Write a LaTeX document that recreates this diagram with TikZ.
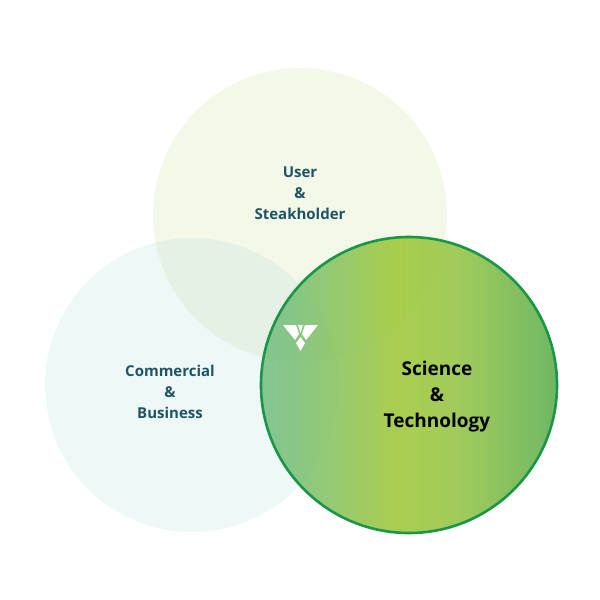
\documentclass[tikz,border=0pt]{standalone}
\usepackage{fontspec}
\setmainfont{Open Sans}
\definecolor{txt}{RGB}{30,85,100}
\definecolor{ring}{RGB}{25,150,70}
\pgfdeclarehorizontalshading{scitech}{100bp}{
 rgb(0bp)=(0.42,0.77,0.72);
 rgb(30bp)=(0.50,0.76,0.50);
 rgb(48bp)=(0.64,0.79,0.25);
 rgb(58bp)=(0.60,0.78,0.30);
 rgb(78bp)=(0.35,0.68,0.35);
 rgb(100bp)=(0.08,0.55,0.35)}
\tikzset{lbl/.style={font=\bfseries\fontsize{15}{21}\selectfont, text=txt, align=center},
 big/.style={font=\bfseries\fontsize{19}{26}\selectfont, text=black, align=center}}
\begin{document}
\begin{tikzpicture}[x=1pt,y=-1pt]
\useasboundingbox (0,0) rectangle (600,600);
\fill[fill={rgb,255:red,180;green,205;blue,110}, fill opacity=0.15] (300,215) circle (147);
\fill[fill={rgb,255:red,150;green,210;blue,200}, fill opacity=0.16] (192,385) circle (147);
\shade[shading=scitech, opacity=0.92] (409,385) circle (148);
\draw[ring, line width=2.6pt] (409,385) circle (148);
\node[lbl] (u) at (300,193) {User\\\&\\Steakholder};
\node[lbl] (c) at (170,392) {Commercial\\\&\\Business};
\node[big] (s) at (437,397) {Science\\\&\\Technology};
\fill[white] (283,325) -- (296,325) -- (299,334) -- (295,340) -- cycle;
\fill[white] (318,325) -- (305,325) -- (302,334) -- (306,340) -- cycle;
\fill[white] (298,325) -- (303,325) -- (300.5,333) -- cycle;
\fill[white] (300.5,337) -- (305,343) -- (300.5,351) -- (296,343) -- cycle;
\end{tikzpicture}
\end{document}
